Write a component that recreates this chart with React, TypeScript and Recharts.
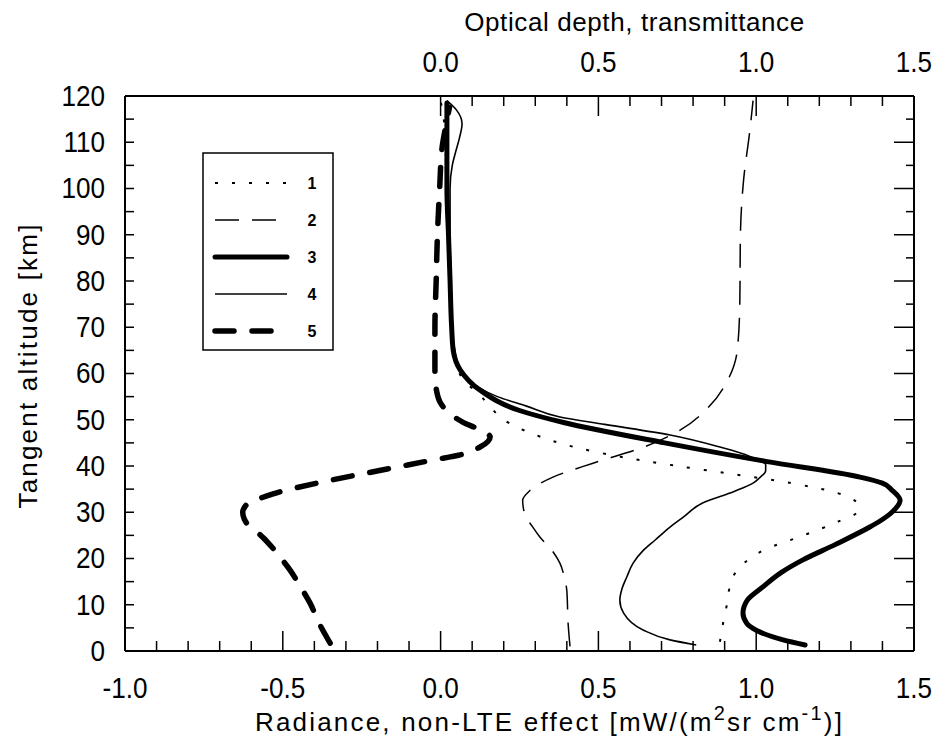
import React from 'react';
import { LineChart, Line, XAxis, YAxis } from 'recharts';

const FONT = "'Liberation Sans', Arial, sans-serif";

// Tangent altitude (km) and value for each profile, bottom to top
const alt1 = [2, 6, 10, 14, 17.5, 20, 22, 25, 28, 30, 31.5, 33, 34.5, 36.3, 38.5, 40, 42, 44, 47, 50, 53, 56, 58, 60, 62, 65, 70, 80, 90, 100, 110, 115, 119];
const val1 = [0.885, 0.895, 0.907, 0.917, 0.94, 0.98, 1.03, 1.15, 1.26, 1.32, 1.325, 1.3, 1.24, 1.11, 0.9, 0.75, 0.57, 0.43, 0.29, 0.2, 0.155, 0.115, 0.08, 0.06, 0.05, 0.04, 0.035, 0.03, 0.025, 0.02, 0.015, 0.01, 0.0];

// optical depth / transmittance (top scale shares the bottom scale's units)
const alt2 = [1, 6, 13, 16, 19, 22, 24.6, 27, 29, 31, 32.6, 34.5, 37.6, 40.6, 44, 47.8, 52.8, 58.6, 65, 75, 90, 101.8, 112.6, 119];
const val2 = [0.41, 0.404, 0.4, 0.392, 0.378, 0.35, 0.315, 0.29, 0.27, 0.262, 0.26, 0.28, 0.356, 0.483, 0.64, 0.76, 0.85, 0.91, 0.94, 0.948, 0.95, 0.96, 0.98, 0.99];

const alt3 = [1.3, 2.4, 4.5, 6, 8.2, 11, 13.8, 17, 19.7, 23, 26.8, 28, 30, 32.6, 34.8, 36.3, 37.6, 41, 45, 49.4, 52, 56.4, 60.8, 65, 70, 80, 90, 100, 110, 118.5];
const val3 = [1.155, 1.085, 1.0, 0.97, 0.958, 0.972, 1.02, 1.08, 1.148, 1.25, 1.36, 1.39, 1.43, 1.456, 1.43, 1.4, 1.329, 1.03, 0.71, 0.39, 0.25, 0.125, 0.062, 0.04, 0.035, 0.03, 0.025, 0.02, 0.02, 0.02];

const alt4 = [1.3, 2.4, 4.5, 8.2, 11, 13.5, 16, 19, 21.8, 24, 26.8, 29, 32, 34.5, 36.3, 37.4, 39, 40.3, 41.5, 42.8, 44.1, 46.7, 49, 50.6, 53, 55, 57, 60, 62, 65, 70, 80, 90, 100, 105, 108, 111, 114, 117, 119];
const val4 = [0.81, 0.727, 0.643, 0.58, 0.568, 0.575, 0.59, 0.61, 0.643, 0.68, 0.727, 0.77, 0.83, 0.93, 0.99, 1.01, 1.03, 1.03, 1.0, 0.95, 0.885, 0.727, 0.52, 0.378, 0.27, 0.18, 0.12, 0.07, 0.055, 0.045, 0.037, 0.033, 0.03, 0.03, 0.037, 0.048, 0.06, 0.068, 0.05, 0.02];

const alt5 = [1.7, 6, 10.4, 14, 17.5, 20, 22.9, 25, 26.8, 28.5, 30, 31.2, 32.2, 33.3, 34.4, 36.3, 38, 39.6, 41.3, 42.4, 44.1, 45.3, 46.3, 47.8, 49.5, 51, 53.6, 56, 60, 70, 80, 90, 100, 109, 114, 117.5];
const val5 = [-0.35, -0.385, -0.414, -0.445, -0.477, -0.505, -0.54, -0.57, -0.604, -0.622, -0.627, -0.62, -0.604, -0.56, -0.51, -0.392, -0.27, -0.15, -0.023, 0.062, 0.125, 0.15, 0.157, 0.125, 0.07, 0.035, 0.0, -0.012, -0.018, -0.018, -0.014, -0.01, -0.003, 0.005, 0.018, 0.028];

const bottomTicks = [-1.0, -0.9, -0.8, -0.7, -0.6, -0.5, -0.4, -0.3, -0.2, -0.1, 0.0, 0.1, 0.2, 0.3, 0.4, 0.5, 0.6, 0.7, 0.8, 0.9, 1.0, 1.1, 1.2, 1.3, 1.4, 1.5];
const altTicks = [0, 5, 10, 15, 20, 25, 30, 35, 40, 45, 50, 55, 60, 65, 70, 75, 80, 85, 90, 95, 100, 105, 110, 115, 120];

const toRows = (alts: number[], vals: number[]) => alts.map((alt, i) => ({ alt, v: vals[i] }));

const series = [
  { id: '1', data: toRows(alt1, val1), width: 2, dash: '3 14', cap: 'butt' },
  { id: '2', data: toRows(alt2, val2), width: 1.5, dash: '24 13', cap: 'butt' },
  { id: '3', data: toRows(alt3, val3), width: 5, dash: undefined, cap: 'round' },
  { id: '4', data: toRows(alt4, val4), width: 1.6, dash: undefined, cap: 'butt' },
  { id: '5', data: toRows(alt5, val5), width: 5.5, dash: '19 18', cap: 'round' },
];

// chart box and the plot inside it
const W = 935;
const H = 740;
const margin = { top: 56, right: 16, bottom: 39, left: 65 };
const AXIS = { top: 40, bottom: 50, left: 60, right: 5 };
const plotW = W - margin.left - margin.right - AXIS.left - AXIS.right;
const plotH = H - margin.top - margin.bottom - AXIS.top - AXIS.bottom;

const isMultiple = (v: number, step: number) => Math.abs(v / step - Math.round(v / step)) < 1e-6;

// tall, slightly condensed numerals
const Num = ({ x, y, anchor, children }: any) => (
  <text
    transform={`translate(${x} ${y}) scale(0.9 1)`}
    textAnchor={anchor}
    dominantBaseline="central"
    fontFamily={FONT}
    fontSize={29}
    fill="#000"
  >
    {children}
  </text>
);

// bottom scale ticks and labels, mirrored on the top edge for the 0 to 1.5 optical depth scale
const BottomTick = ({ x, y, payload }: any) => {
  const v = payload.value;
  const major = isMultiple(v, 0.5);
  const len = major ? 20 : 10;
  const top = y - plotH;
  return (
    <g>
      <line x1={x} x2={x} y1={y} y2={y - len} stroke="#000" strokeWidth={1.5} />
      {major && <Num x={x} y={y + 37} anchor="middle">{v.toFixed(1)}</Num>}
      {v >= -1e-6 && <line x1={x} x2={x} y1={top} y2={top + len} stroke="#000" strokeWidth={1.5} />}
      {v >= -1e-6 && major && <Num x={x} y={top - 34} anchor="middle">{v.toFixed(1)}</Num>}
    </g>
  );
};

// inward ticks on the left edge, plus the right-hand ticks (long at every 10 km)
const LeftTick = ({ x, y, payload }: any) => {
  const labelled = isMultiple(payload.value, 10);
  const right = x + plotW;
  return (
    <g>
      <line x1={x} x2={x + 9} y1={y} y2={y} stroke="#000" strokeWidth={1.5} />
      <line x1={right} x2={right - (labelled ? 20 : 8)} y1={y} y2={y} stroke="#000" strokeWidth={1.5} />
      {labelled && <Num x={x - 20} y={y} anchor="end">{payload.value}</Num>}
    </g>
  );
};

const titleText = { fontFamily: FONT, fontSize: 26, fill: '#000' };

// bottom and top axis titles
const XTitles = ({ viewBox }: any) => {
  const cx = viewBox.x + viewBox.width / 2;
  return (
    <g>
      <text x={cx + 30} y={viewBox.y + 71} textAnchor="middle" dominantBaseline="central" letterSpacing={2.2} {...titleText}>
        Radiance, non-LTE effect [mW/(m
        <tspan dy={-9} fontSize={20}>2</tspan>
        <tspan dy={9}>sr cm</tspan>
        <tspan dy={-9} fontSize={20}>-1</tspan>
        <tspan dy={9}>)]</tspan>
      </text>
      <text x={cx + 115} y={viewBox.y - plotH - 74} textAnchor="middle" dominantBaseline="central" letterSpacing={0.6} {...titleText}>
        Optical depth, transmittance
      </text>
    </g>
  );
};

// altitude title plus the boxed key in the upper left of the plot
const SideTitle = ({ viewBox }: any) => {
  const cx = viewBox.x - 37;
  const cy = viewBox.y + viewBox.height / 2 - 8;
  return (
    <g>
      <text x={cx} y={cy} transform={`rotate(-90 ${cx} ${cy})`} textAnchor="middle" dominantBaseline="central" letterSpacing={2.2} {...titleText}>
        Tangent altitude [km]
      </text>
      <g transform="translate(202 152)">
        <rect x={1} y={1} width={130} height={197} fill="none" stroke="#000" strokeWidth={1.5} />
        {series.map((s, i) => (
          <g key={s.id}>
            <line
              x1={13}
              x2={85}
              y1={31 + i * 37}
              y2={31 + i * 37}
              stroke="#000"
              strokeWidth={s.width}
              strokeDasharray={s.dash}
              strokeLinecap={s.cap as any}
            />
            <text x={110} y={31 + i * 37} textAnchor="middle" dominantBaseline="central" fontFamily={FONT} fontWeight="bold" fontSize={16}>
              {s.id}
            </text>
          </g>
        ))}
      </g>
    </g>
  );
};

export default function App() {
  return (
    <div>
      <style>{'body { margin: 0; }'}</style>
      <LineChart width={W} height={H} layout="vertical" margin={margin}>
        <XAxis
          xAxisId="bottom"
          orientation="bottom"
          type="number"
          domain={[-1, 1.5]}
          ticks={bottomTicks}
          interval={0}
          height={AXIS.bottom}
          tickSize={0}
          tickMargin={0}
          tickLine={false}
          tick={<BottomTick />}
          axisLine={{ stroke: '#000', strokeWidth: 2 }}
          label={<XTitles />}
        />
        <XAxis
          xAxisId="top"
          orientation="top"
          type="number"
          domain={[-1, 1.5]}
          height={AXIS.top}
          tick={false}
          tickLine={false}
          axisLine={{ stroke: '#000', strokeWidth: 2 }}
        />
        <YAxis
          yAxisId="left"
          orientation="left"
          type="number"
          dataKey="alt"
          domain={[0, 120]}
          reversed
          ticks={altTicks}
          interval={0}
          width={AXIS.left}
          tickSize={0}
          tickMargin={0}
          tickLine={false}
          tick={<LeftTick />}
          axisLine={{ stroke: '#000', strokeWidth: 2 }}
          label={<SideTitle />}
        />
        <YAxis
          yAxisId="right"
          orientation="right"
          type="number"
          dataKey="alt"
          domain={[0, 120]}
          reversed
          width={AXIS.right}
          tick={false}
          tickLine={false}
          axisLine={{ stroke: '#000', strokeWidth: 2 }}
        />
        {series.map((s) => (
          <Line
            key={s.id}
            data={s.data}
            dataKey="v"
            name={s.id}
            xAxisId="bottom"
            yAxisId="left"
            type="monotone"
            stroke="#000"
            strokeWidth={s.width}
            strokeDasharray={s.dash}
            strokeLinecap={s.cap as any}
            dot={false}
            activeDot={false}
            isAnimationActive={false}
          />
        ))}
      </LineChart>
    </div>
  );
}
